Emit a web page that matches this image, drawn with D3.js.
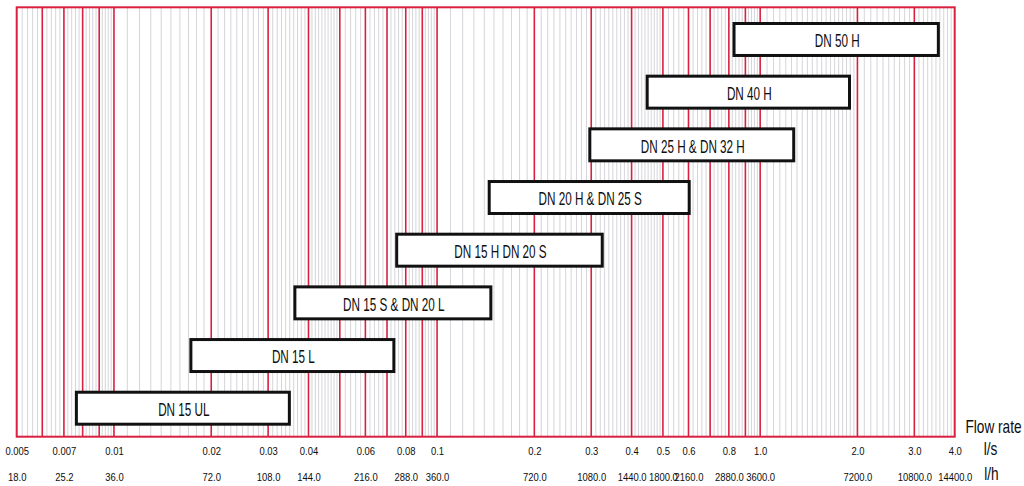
<!DOCTYPE html>
<html><head><meta charset="utf-8">
<script src="https://cdn.jsdelivr.net/npm/d3@7"></script>
<style>
body{margin:0;background:#fff}
svg text{font-family:"Liberation Sans","Arial",sans-serif;fill:#0d0d0d}
</style>
</head><body><svg id="c" width="1024" height="486"></svg>
<script>
// ---- data ----
const categories = ["DN 50 H","DN 40 H","DN 25 H & DN 32 H","DN 20 H & DN 25 S","DN 15 H DN 20 S","DN 15 S & DN 20 L","DN 15 L","DN 15 UL"];
const rangeMin = [0.83, 0.447, 0.297, 0.145, 0.075, 0.0363, 0.0173, 0.00765];
const rangeMax = [3.56, 1.89, 1.27, 0.603, 0.3245, 0.1467, 0.0735, 0.0349];
const lsTicks  = [0.005,0.007,0.01,0.02,0.03,0.04,0.06,0.08,0.1,0.2,0.3,0.4,0.5,0.6,0.8,1.0,2.0,3.0,4.0];
const lsLabels = ["0.005","0.007","0.01","0.02","0.03","0.04","0.06","0.08","0.1","0.2","0.3","0.4","0.5","0.6","0.8","1.0","2.0","3.0","4.0"];
const lhLabels = ["18.0","25.2","36.0","72.0","108.0","144.0","216.0","288.0","360.0","720.0","1080.0","1440.0","1800.0","2160.0","2880.0","3600.0","7200.0","10800.0","14400.0"];
const majorLines = [0.006,0.007,0.008,0.009,0.01,0.02,0.03,0.04,0.05,0.06,0.07,0.08,0.09,0.1,0.2,0.3,0.4,0.5,0.6,0.7,0.8,0.9,1,2,3];
// minor grid spec: [from, to, step]
const minorSpec = [[0.005,0.01,0.0002],[0.01,0.05,0.001],[0.05,0.1,0.002],[0.1,0.5,0.01],[0.5,1,0.02],[1,2,0.05],[2,4,0.1]];
const axisTitle = "Flow rate", unitLs = "l/s", unitLh = "l/h";

// ---- layout ----
const svg = d3.select("#c");
const L = 16.7, R = 954.7, T = 7.3, B = 436.7;
const x = d3.scaleLog().domain([0.005, 4]).range([L, R]);
const y = d3.scaleBand().domain(categories).range([23.5, 424.2]).paddingInner(0.393).paddingOuter(0);

const minor = [];
const majSet = new Set(majorLines.map(v => v.toFixed(6)));
minorSpec.forEach(([a, b, s]) => {
  const n = Math.round((b - a) / s);
  for (let k = 1; k < n; k++) {
    const v = +(a + k * s).toFixed(6);
    if (!majSet.has(v.toFixed(6))) minor.push(v);
  }
});

svg.append("g").selectAll("line").data(minor).join("line")
  .attr("x1", d => x(d)).attr("x2", d => x(d)).attr("y1", T).attr("y2", B)
  .attr("stroke", "#d5d5da").attr("stroke-width", 1);

svg.append("g").selectAll("line").data(majorLines).join("line")
  .attr("x1", d => x(d)).attr("x2", d => x(d)).attr("y1", T).attr("y2", B)
  .attr("stroke", "#d9203f").attr("stroke-width", 1.6);

svg.append("rect").attr("x", L).attr("y", T).attr("width", R - L).attr("height", B - T)
  .attr("fill", "none").attr("stroke", "#d9203f").attr("stroke-width", 2);

function label(parent, tx, ty, txt, size, sx) {
  return parent.append("text")
    .attr("transform", `translate(${tx},${ty}) scale(${sx},1)`)
    .attr("text-anchor", "middle").style("font-size", size + "px").text(txt);
}

const rows = categories.map((c, i) => ({c, lo: rangeMin[i], hi: rangeMax[i]}));
const g = svg.append("g").selectAll("g").data(rows).join("g");
g.append("rect")
  .attr("x", d => x(d.lo)).attr("y", d => y(d.c))
  .attr("width", d => x(d.hi) - x(d.lo)).attr("height", y.bandwidth())
  .attr("fill", "#fff").attr("stroke", "#111").attr("stroke-width", 3);
g.each(function(d) {
  label(d3.select(this), (x(d.lo) + x(d.hi)) / 2 + 1, y(d.c) + y.bandwidth() / 2 + 7.7, d.c, 17.5, 0.67);
});

// axes (label rows)
const axLs = d3.axisBottom(x).tickValues(lsTicks).tickSize(0).tickPadding(0)
  .tickFormat((d, i) => lsLabels[i]);
const gLs = svg.append("g").attr("transform", `translate(0,${455})`).call(axLs);
const axLh = d3.axisBottom(x).tickValues(lsTicks).tickSize(0).tickPadding(0)
  .tickFormat((d, i) => lhLabels[i]);
const gLh = svg.append("g").attr("transform", `translate(0,${481})`).call(axLh);
[gLs, gLh].forEach(ga => {
  ga.select(".domain").remove();
  ga.attr("font-family", null).attr("font-size", null);
  ga.selectAll("text").attr("y", 0).attr("dy", 0)
    .attr("transform", `scale(0.8,1)`)
    .style("font-size", "11.8px").attr("fill", "#0d0d0d");
});

label(svg, 993.5, 433, axisTitle, 18, 0.76);
label(svg, 990.5, 455, unitLs, 18, 0.76);
label(svg, 991.5, 480, unitLh, 18, 0.76);
</script>
</body></html>
